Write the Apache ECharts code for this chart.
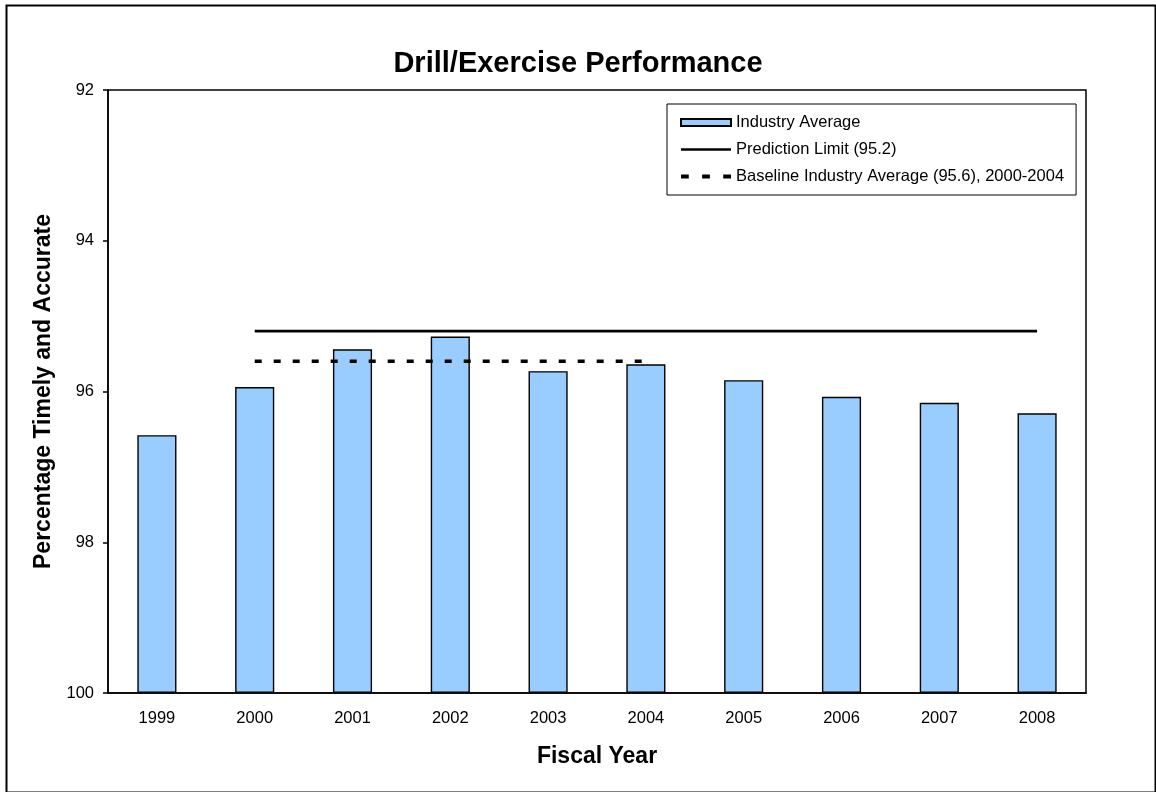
<!DOCTYPE html>
<html>
<head>
<meta charset="utf-8">
<script src="https://cdn.jsdelivr.net/npm/echarts@6/dist/echarts.min.js"></script>
<style>
html,body{margin:0;padding:0;background:#fff;}
#chart{width:1156px;height:792px;}
</style>
</head>
<body>
<div id="chart"></div>
<script>
const categories = ['1999','2000','2001','2002','2003','2004','2005','2006','2007','2008'];
const industryAverage = [96.58, 95.94, 95.44, 95.27, 95.73, 95.64, 95.85, 96.07, 96.15, 96.29];
const predictionLimit = [null, 95.2, 95.2, 95.2, 95.2, 95.2, 95.2, 95.2, 95.2, 95.2];
const baselineAverage = [null, 95.6, 95.6, 95.6, 95.6, 95.6, null, null, null, null];
const yTicks = [92, 94, 96, 98, 100];

const FONT = '"Liberation Sans", Arial, sans-serif';
const SOLID_ICON = 'path://M0,0h50v2.7h-50z';
const DASH_ICON = 'path://M0,0h7v3.5h-7zM19,0h7v3.5h-7zM38,0h7v3.5h-7z';
const chart = echarts.init(document.getElementById('chart'));
chart.setOption({
  animation: false,
  backgroundColor: '#fff',
  textStyle: { fontFamily: FONT, color: '#000' },
  graphic: [{
    type: 'rect', left: 4, top: 3,
    shape: { width: 1149, height: 787 },
    style: { fill: 'none', stroke: '#000', lineWidth: 2 }
  }],
  title: {
    text: 'Drill/Exercise Performance',
    left: 'center', top: 44,
    textStyle: { fontFamily: FONT, fontSize: 29, fontWeight: 'bold', color: '#000' }
  },
  legend: {
    orient: 'vertical',
    left: 667, top: 104,
    padding: [10, 12, 10, 13],
    itemGap: 10,
    itemWidth: 50, itemHeight: 7,
    borderColor: '#000', borderWidth: 1,
    backgroundColor: '#fff',
    textStyle: { fontFamily: FONT, fontSize: 16.5, color: '#000' },
    data: [
      { name: 'Industry Average', icon: 'rect' },
      { name: 'Prediction Limit (95.2)', icon: SOLID_ICON, itemStyle: { color: '#000' } },
      { name: 'Baseline Industry Average (95.6), 2000-2004', icon: DASH_ICON, itemStyle: { color: '#000' } }
    ]
  },
  grid: {
    left: 108, top: 90, right: 70, bottom: 99,
    show: true, borderColor: '#000', borderWidth: 1.5,
    containLabel: false
  },
  xAxis: {
    type: 'category',
    data: categories,
    name: 'Fiscal Year',
    nameLocation: 'middle',
    nameGap: 52,
    nameTextStyle: { fontFamily: FONT, fontSize: 23, fontWeight: 'bold', color: '#000' },
    axisLine: { lineStyle: { color: '#000', width: 1.5 } },
    axisTick: { show: false },
    axisLabel: { fontFamily: FONT, fontSize: 16.5, color: '#000', margin: 17 },
    splitLine: { show: false }
  },
  yAxis: {
    type: 'value',
    inverse: true,
    min: 92, max: 100, interval: 2,
    startValue: 100,
    name: 'Percentage Timely and Accurate',
    nameLocation: 'middle',
    nameGap: 52,
    nameRotate: 90,
    nameTextStyle: { fontFamily: FONT, fontSize: 23, fontWeight: 'bold', color: '#000' },
    axisLine: { show: true, lineStyle: { color: '#000', width: 1.5 } },
    axisTick: { show: true, inside: false, length: 5, lineStyle: { color: '#000', width: 1.5 } },
    axisLabel: { fontFamily: FONT, fontSize: 16.5, color: '#000', margin: 14,
      formatter: v => (yTicks.indexOf(v) >= 0 ? String(v) : '') },
    splitLine: { show: false }
  },
  series: [
    {
      name: 'Industry Average',
      type: 'bar',
      data: industryAverage,
      barWidth: '40%',
      itemStyle: { color: '#99CCFF', borderColor: '#000', borderWidth: 1.4 },
      z: 2
    },
    {
      name: 'Prediction Limit (95.2)',
      type: 'line',
      data: predictionLimit,
      symbol: 'none',
      connectNulls: false,
      lineStyle: { color: '#000', width: 2.7 },
      itemStyle: { color: '#000' },
      z: 3
    },
    {
      name: 'Baseline Industry Average (95.6), 2000-2004',
      type: 'line',
      data: baselineAverage,
      symbol: 'none',
      lineStyle: { color: '#000', width: 3.5, type: [7, 12] },
      itemStyle: { color: '#000' },
      z: 3
    }
  ]
});
</script>
</body>
</html>
